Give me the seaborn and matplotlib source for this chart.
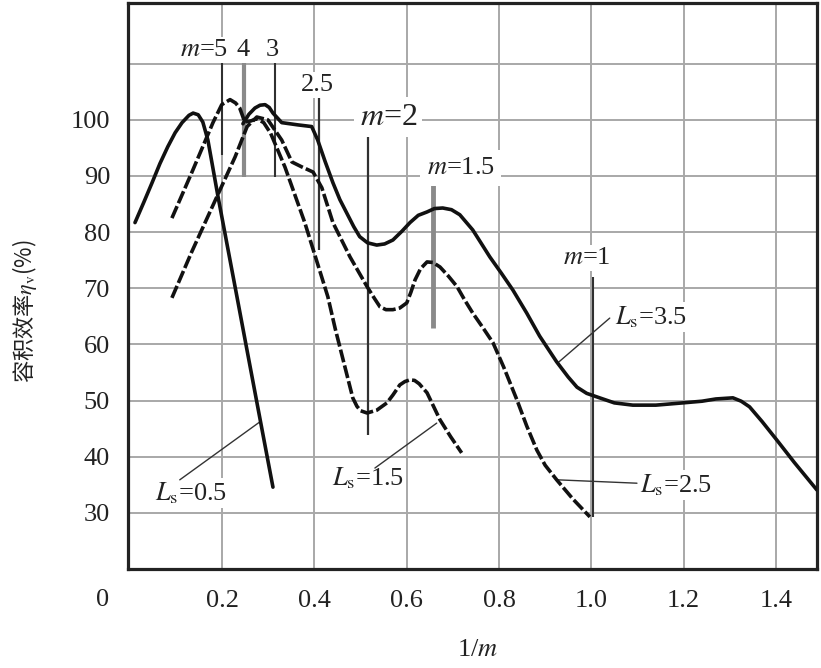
import numpy as np
import pandas as pd
import matplotlib
matplotlib.use('Agg')
import matplotlib.pyplot as plt
import seaborn as sns

# curves (x = 1/m, y = volumetric efficiency %)
x_ls05 = [0.011, 0.030, 0.048, 0.065, 0.082, 0.098, 0.113, 0.128, 0.137, 0.148, 0.158, 0.169, 0.191,
          0.232, 0.254, 0.277, 0.310]
y_ls05 = [81.7, 85.3, 88.8, 92.2, 95.2, 97.7, 99.5, 100.8, 101.2, 100.9, 99.6, 96.4, 86.3,
          68.5, 58.9, 48.9, 34.6]

x_ls15 = [0.091, 0.134, 0.180, 0.199, 0.217, 0.229, 0.238, 0.249, 0.262, 0.275, 0.290, 0.305, 0.336,
          0.379, 0.429, 0.445, 0.462, 0.483, 0.492, 0.500, 0.514, 0.535, 0.557, 0.570, 0.585, 0.596,
          0.607, 0.617, 0.627, 0.644, 0.658, 0.672, 0.695, 0.719]
y_ls15 = [82.5, 90.6, 99.5, 102.7, 103.6, 103.0, 102.1, 99.6, 99.8, 100.2, 99.5, 97.6, 91.6,
          81.7, 68.5, 62.8, 57.3, 50.5, 49.0, 48.2, 47.8, 48.3, 49.6, 51.0, 52.8, 53.4,
          53.7, 53.6, 53.0, 51.4, 49.0, 46.6, 43.6, 40.7]

x_ls25 = [0.091, 0.134, 0.184, 0.228, 0.254, 0.275, 0.299, 0.329, 0.351, 0.373, 0.397, 0.416, 0.440,
          0.477, 0.514, 0.530, 0.542, 0.555, 0.570, 0.585, 0.600, 0.609, 0.618, 0.630, 0.644, 0.657,
          0.672, 0.690, 0.709, 0.725, 0.743, 0.765, 0.787, 0.810, 0.839, 0.860, 0.882, 0.900, 0.925,
          0.960, 0.997]
y_ls25 = [68.3, 76.5, 85.5, 93.4, 98.8, 100.5, 100.0, 96.4, 92.5, 91.6, 90.7, 87.9, 81.7,
          75.6, 70.3, 68.2, 66.7, 66.2, 66.2, 66.5, 67.4, 69.3, 71.5, 73.5, 74.7, 74.6,
          73.8, 72.2, 70.3, 68.0, 65.6, 63.0, 60.3, 56.0, 50.1, 45.5, 41.2, 38.5, 35.9,
          32.5, 29.3]

x_ls35 = [0.245, 0.258, 0.271, 0.282, 0.293, 0.302, 0.310, 0.329, 0.364, 0.394, 0.407, 0.423, 0.440,
          0.455, 0.470, 0.485, 0.498, 0.515, 0.535, 0.552, 0.570, 0.590, 0.607, 0.625, 0.644, 0.660,
          0.678, 0.697, 0.715, 0.743, 0.760, 0.780, 0.805, 0.830, 0.860, 0.888, 0.925, 0.950, 0.969,
          0.990, 1.018, 1.050, 1.090, 1.140, 1.198, 1.240, 1.270, 1.307, 1.325, 1.343, 1.370, 1.402,
          1.440, 1.489]
y_ls35 = [99.3, 101.0, 102.1, 102.6, 102.7, 102.2, 101.2, 99.5, 99.1, 98.8, 96.4, 92.6, 88.8,
          85.8, 83.4, 81.0, 79.2, 78.1, 77.7, 77.9, 78.6, 80.2, 81.7, 83.0, 83.6, 84.2,
          84.3, 84.0, 83.1, 80.4, 78.2, 75.6, 72.7, 69.7, 65.6, 61.5, 56.9, 54.2, 52.4,
          51.3, 50.5, 49.6, 49.2, 49.2, 49.6, 49.9, 50.3, 50.5, 49.9, 48.9, 46.3, 43.0,
          39.0, 34.1]

# vertical m markers
m_names = ['5', '4', '3', '2.5', '2', '1.5', '1']
m_x = [0.199, 0.247, 0.314, 0.410, 0.516, 0.657, 1.003]
m_top = [110.2, 110.2, 110.2, 104.1, 97.9, 88.4, 72.0]
m_bottom = [93.8, 89.8, 89.8, 76.8, 43.9, 62.9, 29.3]

x_ticks = [0.2, 0.4, 0.6, 0.8, 1.0, 1.2, 1.4]
x_ticklabels = ['0.2', '0.4', '0.6', '0.8', '1.0', '1.2', '1.4']
y_ticks = [30, 40, 50, 60, 70, 80, 90, 100, 110]
y_ticklabels = ['30', '40', '50', '60', '70', '80', '90', '100', '']

sns.set_style('white')
plt.rcParams['font.family'] = ['Liberation Serif', 'DejaVu Serif']
plt.rcParams['mathtext.fontset'] = 'stix'

fig = plt.figure(figsize=(8.21, 6.68), dpi=100)
ax = fig.add_axes([0.156, 0.148, 0.839, 0.8475])

ax.set_xlim(-0.004, 1.489)
ax.set_ylim(20, 120.8)
ax.set_xticks(x_ticks)
ax.set_xticklabels(x_ticklabels)
ax.set_yticks(y_ticks)
ax.set_yticklabels(y_ticklabels)
ax.tick_params(axis='both', length=0, labelsize=19, colors='#222222')
ax.tick_params(axis='x', pad=15)
ax.tick_params(axis='y', pad=13)
ax.grid(True, color='#a8a8a8', lw=1.4)
ax.set_axisbelow(True)
for sp in ax.spines.values():
    sp.set_visible(True)
    sp.set_color('#222222')
    sp.set_linewidth(2.3)

# m lines
m_dark = ['#303030', '#8a8a8a', '#303030', '#303030', '#303030', '#8a8a8a', '#303030']
m_lw = [1.5, 3.0, 1.5, 1.6, 1.6, 3.5, 1.5]
for xv, t, b, c, w in zip(m_x, m_top, m_bottom, m_dark, m_lw):
    ax.vlines(xv, b, t, color=c, lw=w, zorder=2)

dash = (0, (3.6, 0.9))
sns.lineplot(x=x_ls05, y=y_ls05, ax=ax, color='#111111', lw=2.6, estimator=None, sort=False, zorder=4)
sns.lineplot(x=x_ls15, y=y_ls15, ax=ax, color='#111111', lw=2.6, linestyle=dash, estimator=None, sort=False, zorder=4)
sns.lineplot(x=x_ls25, y=y_ls25, ax=ax, color='#111111', lw=2.6, linestyle=dash, estimator=None, sort=False, zorder=4)
sns.lineplot(x=x_ls35, y=y_ls35, ax=ax, color='#111111', lw=2.6, estimator=None, sort=False, zorder=4)

wb = dict(facecolor='white', edgecolor='none', pad=1.5)
tc = '#222222'
ax.text(0.212, 112.5, '$m$=5', ha='right', va='center', fontsize=19, color=tc, bbox=wb)
ax.text(0.245, 112.5, '4', ha='center', va='center', fontsize=19, color=tc)
ax.text(0.308, 112.5, '3', ha='center', va='center', fontsize=19, color=tc)
ax.text(0.407, 106.2, '2.5', ha='center', va='center', fontsize=19, color=tc, bbox=wb)
ax.text(0.560, 100.5, '$m$=2', ha='center', va='center', fontsize=23, color=tc,
        bbox=dict(facecolor='white', edgecolor='none', pad=4))
ax.text(0.717, 91.4, '$m$=1.5', ha='center', va='center', fontsize=19, color=tc,
        bbox=dict(facecolor='white', edgecolor='none', pad=5))
ax.text(0.990, 75.4, '$m$=1', ha='center', va='center', fontsize=19, color=tc, bbox=wb)

ls_text = [(1.051, 64.9, '3.5'), (1.105, 35.0, '2.5'), (0.438, 36.2, '1.5'), (0.054, 33.6, '0.5')]
for xt, yt, s in ls_text:
    ax.text(xt, yt, r'$L_\mathrm{s}$=' + s, ha='left', va='center', fontsize=19, color=tc, bbox=wb, zorder=3)

pointers = [((1.040, 64.7), (0.927, 56.7)), ((1.099, 35.3), (0.927, 35.9)),
            ((0.531, 38.0), (0.665, 46.0)), ((0.108, 35.9), (0.283, 46.3))]
for (x0, y0), (x1, y1) in pointers:
    ax.plot([x0, x1], [y0, y1], color='#333333', lw=1.0, zorder=3)

ax.text(-0.0585, 14.5, '0', ha='center', va='center', fontsize=19, color=tc, clip_on=False)
fig.text(0.582, 0.027, '1/$m$', ha='center', va='center', fontsize=19, color=tc)
fig.text(0.030, 0.534, r'容积效率$\eta_\mathrm{v}$(%)', rotation=90, ha='center', va='center',
         fontsize=16, color=tc, family='Noto Sans CJK SC')

fig.savefig('out.png', dpi=100)
